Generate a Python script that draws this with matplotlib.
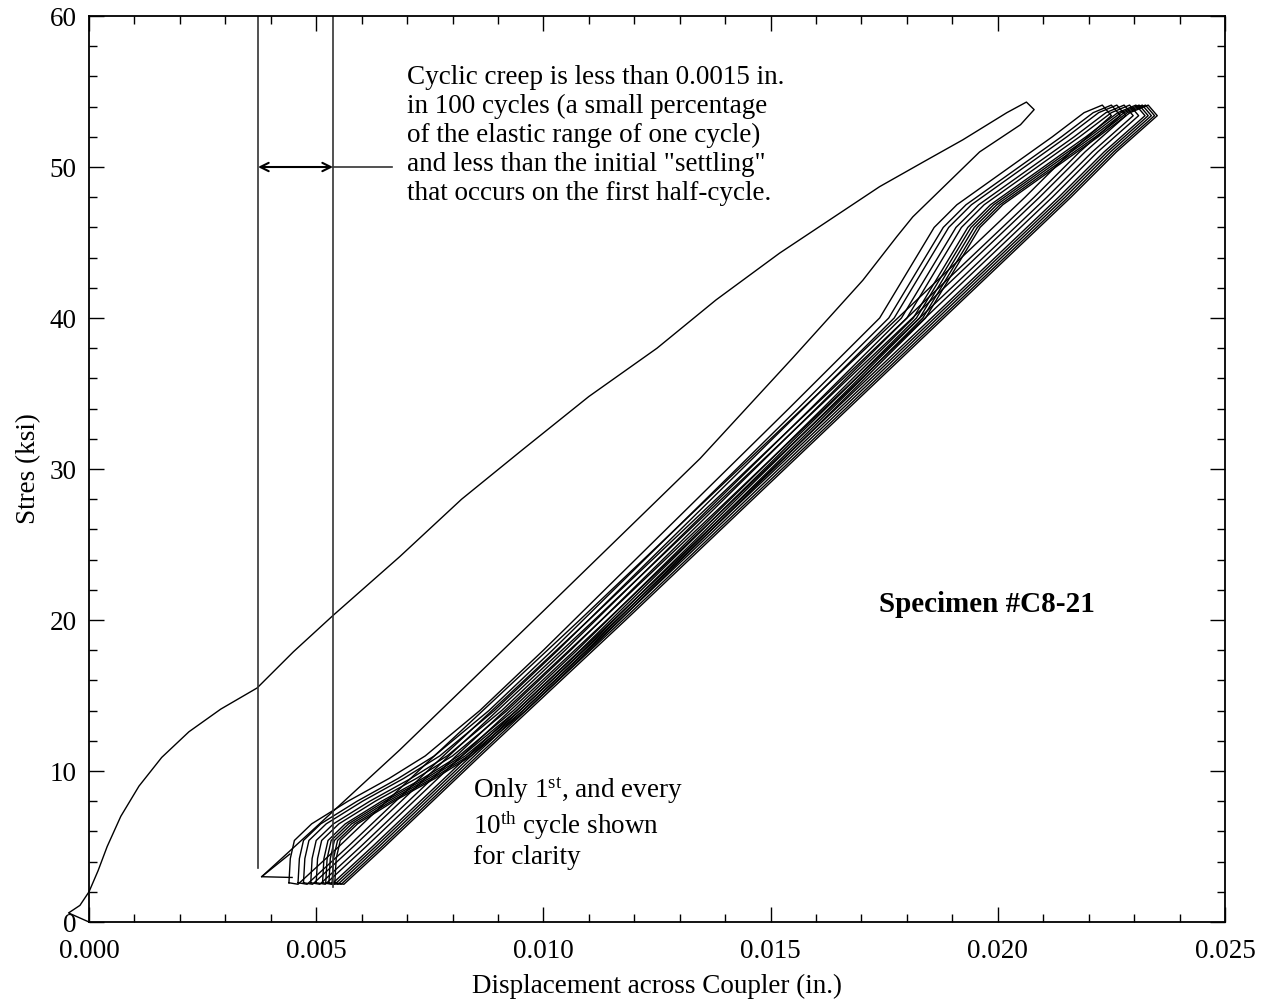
import numpy as np
import matplotlib
matplotlib.use("Agg")
import matplotlib.pyplot as plt
from matplotlib.ticker import MultipleLocator, FormatStrFormatter

plt.rcParams['font.family'] = ['Liberation Serif', 'DejaVu Serif']
plt.rcParams['mathtext.fontset'] = 'custom'
plt.rcParams['mathtext.rm'] = 'Liberation Serif'
plt.rcParams['mathtext.it'] = 'Liberation Serif:italic'

# first cycle: initial loading from zero, then unloading ("settling")
first_x = [0.0, -0.00045, -0.0002, 0.0, 0.0002, 0.0004, 0.0007, 0.0011, 0.0016, 0.0022,
           0.0029, 0.0037, 0.0045, 0.00537, 0.00684, 0.0082, 0.00955, 0.0110, 0.0125, 0.0138,
           0.0152, 0.0164, 0.0174, 0.0184, 0.01923, 0.0202, 0.02063, 0.0208, 0.0205, 0.0196,
           0.01813, 0.01778, 0.01703, 0.0155, 0.01345, 0.0100, 0.00684, 0.0050, 0.0038, 0.00447]
first_y = [0.0, 0.6, 1.1, 2.0, 3.4, 5.0, 7.0, 9.0, 10.9, 12.6,
           14.1, 15.5, 17.9, 20.3, 24.2, 28.0, 31.3, 34.8, 38.0, 41.2,
           44.3, 46.7, 48.7, 50.4, 51.8, 53.6, 54.3, 53.8, 52.8, 51.0,
           46.7, 45.4, 42.5, 37.4, 30.7, 20.6, 11.4, 6.3, 3.0, 2.95]
reload_x = [0.0038, 0.00442]
reload_y = [3.0, 4.5]

# every 10th cycle: loop shape (displacement measured from the loop's bottom)
loop_y = [2.6, 4.2, 5.4, 6.5, 8.0, 9.5, 11.0, 14.0, 18.0, 26.0, 34.0, 40.0, 43.5, 46.0,
          47.5, 49.0, 50.5, 52.0, 53.6, 54.1, 53.4, 51.0, 48.0, 40.0, 30.0, 20.0, 11.0,
          5.0, 2.5, 2.6]
loop_dx = [0.0, 0.00003, 0.00012, 0.0005, 0.0013, 0.0022, 0.0030, 0.0042, 0.0056, 0.0083,
           0.0110, 0.0130, 0.0137, 0.0142, 0.0147, 0.0154, 0.0161, 0.0168, 0.0175, 0.0179,
           0.0181, 0.0172, 0.0162, 0.0134, 0.0099, 0.0064, 0.0032, 0.0011, 0.0002, 0.0]
# bottom of each loop, cycles 10, 20, ... 100 (creep)
loop_bottom = [0.00440, 0.00460, 0.00472, 0.00488, 0.00500, 0.00514, 0.00521, 0.00528,
               0.00535, 0.00541]

creep_lines = [0.00372, 0.00537]
creep_bottoms = [3.6, 2.3]

fig = plt.figure(figsize=(12.66, 10.07), dpi=100)
ax = fig.add_axes([0.0703, 0.0844, 0.8973, 0.8997])

ax.plot(first_x, first_y, color='black', lw=1.0, clip_on=False)
ax.plot(reload_x, reload_y, color='black', lw=1.0)
for b in loop_bottom:
    ax.plot(b + np.array(loop_dx), loop_y, color='black', lw=1.0)

for xv, yb in zip(creep_lines, creep_bottoms):
    ax.plot([xv, xv], [yb, 60], color='#333333', lw=1.2)

ax.annotate('', xy=(creep_lines[0], 50), xytext=(creep_lines[1], 50),
            arrowprops=dict(arrowstyle='<->,head_length=0.6,head_width=0.3',
                            color='black', lw=1.5, shrinkA=0, shrinkB=0))
ax.plot([creep_lines[1], 0.00666], [50, 50], color='#333333', lw=1.2)

ax.text(0.0070, 52.1,
        'Cyclic creep is less than 0.0015 in.\nin 100 cycles (a small percentage\n'
        'of the elastic range of one cycle)\nand less than the initial "settling"\n'
        'that occurs on the first half-cycle.',
        fontsize=19.5, ha='left', va='center', linespacing=1.2)
ax.text(0.00845, 6.55,
        'Only 1$^{\\mathrm{st}}$, and every\n10$^{\\mathrm{th}}$ cycle shown\nfor clarity',
        fontsize=19.5, ha='left', va='center', linespacing=1.15)
ax.text(0.01976, 21.0, 'Specimen #C8-21', fontsize=21, fontweight='bold',
        ha='center', va='center')

ax.set_xlim(0, 0.025)
ax.set_ylim(0, 60)
ax.xaxis.set_major_locator(MultipleLocator(0.005))
ax.xaxis.set_minor_locator(MultipleLocator(0.001))
ax.yaxis.set_major_locator(MultipleLocator(10))
ax.yaxis.set_minor_locator(MultipleLocator(2))
ax.xaxis.set_major_formatter(FormatStrFormatter('%.3f'))
ax.tick_params(which='both', direction='in', top=True, right=True, labelsize=19.5)
ax.tick_params(which='major', length=11, width=1.0)
ax.tick_params(which='minor', length=5.5, width=1.0)
ax.tick_params(axis='x', pad=12)
ax.tick_params(axis='y', pad=9)
for s in ax.spines.values():
    s.set_linewidth(1.3)

ax.set_xlabel('Displacement across Coupler (in.)', fontsize=19.5, labelpad=7)
ax.set_ylabel('Stres (ksi)', fontsize=19.5, labelpad=6)

fig.savefig('out.png', dpi=100)
